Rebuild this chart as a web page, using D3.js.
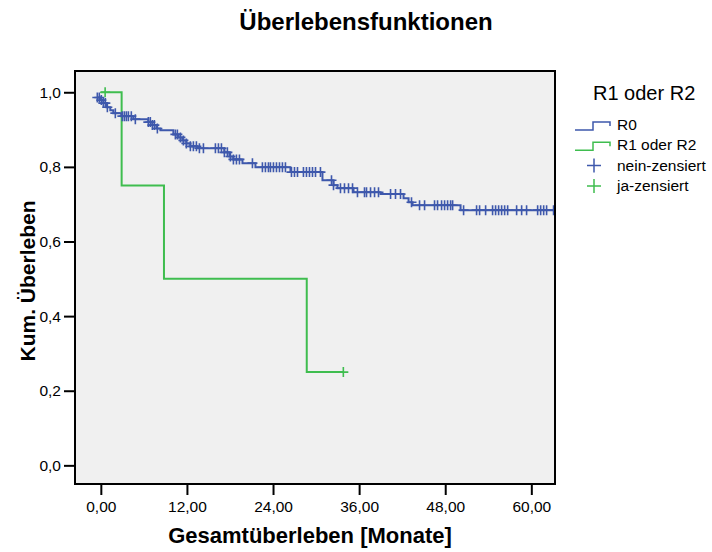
<!DOCTYPE html>
<html>
<head>
<meta charset="utf-8">
<title>Überlebensfunktionen</title>
<script src="https://d3js.org/d3.v7.min.js"></script>
<style>
  body { margin: 0; background: #ffffff; }
  text { font-family: "Liberation Sans", Arial, sans-serif; fill: #000; }
</style>
</head>
<body>
<div id="vis"></div>
<script>
// Kaplan-Meier steps: time (months) / cumulative survival
const r0Times = [-0.5, 0.0, 0.35, 0.77, 1.32, 1.74, 2.86, 4.53, 6.62, 7.18, 7.74, 8.3, 10.11, 10.81, 11.37, 11.92,
  12.48, 13.46, 17.22, 17.92, 18.48, 19.74, 21.55, 26.43, 30.89, 32.43, 32.99, 35.22, 38.98, 42.19, 42.89, 43.45, 50.14, 63.4];
const r0Surv = [0.986, 0.979, 0.971, 0.960, 0.952, 0.944, 0.936, 0.928, 0.920, 0.912, 0.903, 0.898, 0.887, 0.879, 0.871, 0.863,
  0.855, 0.850, 0.839, 0.828, 0.820, 0.810, 0.799, 0.786, 0.764, 0.751, 0.743, 0.732, 0.727, 0.716, 0.705, 0.697, 0.684, 0.684];
const r0Censored = [-0.49, -0.21, 0.07, 0.35, 0.63, 0.91, 2.02, 3.0, 3.28, 3.56, 3.84, 4.25, 4.81,
  6.62, 6.9, 7.18, 7.46, 7.88, 10.39, 10.67, 11.09, 11.51, 11.92, 12.48, 12.9, 13.32, 13.74, 14.3,
  15.97, 16.39, 16.81, 17.22, 17.64, 18.06, 18.48, 18.9, 19.32, 21.13,
  22.52, 22.94, 23.36, 23.64, 24.06, 24.48, 24.9, 25.31, 25.73, 26.57, 26.99, 27.41,
  28.24, 28.66, 29.08, 29.5, 29.92, 30.61, 32.15, 32.43, 33.4, 33.96, 34.52, 35.08,
  35.77, 36.75, 37.03, 37.59, 38.15, 38.7, 40.38, 41.07, 41.77, 43.3, 44.42, 45.12,
  46.51, 46.93, 47.49, 47.91, 48.33, 48.75, 49.03, 50.56, 52.37, 52.79, 53.63,
  54.6, 55.02, 55.44, 55.86, 56.28, 56.7, 57.95, 58.65, 59.34, 60.88, 61.3, 61.72, 62.13, 63.1];

const r12Times = [0, 2.9, 8.8, 28.7, 33.8];
const r12Surv = [1.0, 0.75, 0.5, 0.25, 0.25];
const r12Censored = [0.6, 33.8];

const xTicks = [0, 12, 24, 36, 48, 60];
const yTicks = [0, 0.2, 0.4, 0.6, 0.8, 1.0];

const blue = "#3e58ac", green = "#3fbd4f";

const svg = d3.select("#vis").append("svg")
  .attr("width", 712).attr("height", 552);

// plot frame
const L = 75, R = 555, T = 71, B = 484;
const x = d3.scaleLinear().domain([-3.6, 63.3]).range([L, R]);
const y = d3.scaleLinear().domain([-0.05, 1.057]).range([B, T]);

svg.append("defs").append("clipPath").attr("id", "clip")
  .append("rect").attr("x", L).attr("y", T).attr("width", R - L).attr("height", B - T);

svg.append("rect")
  .attr("x", L).attr("y", T).attr("width", R - L).attr("height", B - T)
  .attr("fill", "#f0f0f0");

// axes
const fmtX = d => d3.format(".2f")(d).replace(".", ",");
const fmtY = d => d3.format(".1f")(d).replace(".", ",");

const xAxis = svg.append("g").attr("transform", `translate(0,${B + 1})`)
  .call(d3.axisBottom(x).tickValues(xTicks).tickSize(10).tickPadding(6).tickFormat(fmtX));
const yAxis = svg.append("g").attr("transform", `translate(${L - 1},0)`)
  .call(d3.axisLeft(y).tickValues(yTicks).tickSize(10).tickPadding(3).tickFormat(fmtY));
[xAxis, yAxis].forEach(g => {
  g.select(".domain").remove();
  g.selectAll(".tick line").attr("stroke", "#000").attr("stroke-width", 2);
  g.selectAll(".tick text").attr("font-size", 15.5).attr("font-family", "Liberation Sans, Arial, sans-serif");
});

// curves
const plot = svg.append("g").attr("clip-path", "url(#clip)");
const line = d3.line().x(d => x(d[0])).y(d => y(d[1])).curve(d3.curveStepAfter);

function survAt(times, surv, t) {
  let s = surv[0];
  for (let i = 0; i < times.length; i++) if (times[i] <= t + 1e-9) s = surv[i];
  return s;
}

function drawCurve(times, surv, censored, color) {
  plot.append("path")
    .datum(times.map((t, i) => [t, surv[i]]))
    .attr("d", line)
    .attr("fill", "none").attr("stroke", color).attr("stroke-width", 2);
  plot.selectAll(null)
    .data(censored)
    .join("path")
    .attr("d", t => {
      const cx = x(t), cy = y(survAt(times, surv, t));
      return `M${cx - 5},${cy}H${cx + 5}M${cx},${cy - 5}V${cy + 5}`;
    })
    .attr("stroke", color).attr("stroke-width", 1.6).attr("fill", "none");
}

drawCurve(r12Times, r12Surv, r12Censored, green);
drawCurve(r0Times, r0Surv, r0Censored, blue);

svg.append("rect")
  .attr("x", L).attr("y", T).attr("width", R - L).attr("height", B - T)
  .attr("fill", "none").attr("stroke", "#000").attr("stroke-width", 2);

// titles
svg.append("text").attr("x", 366).attr("y", 30).attr("text-anchor", "middle")
  .attr("font-size", 24).attr("font-weight", "bold").text("Überlebensfunktionen");
svg.append("text").attr("x", 310).attr("y", 543).attr("text-anchor", "middle")
  .attr("font-size", 22).attr("font-weight", "bold").text("Gesamtüberleben [Monate]");
svg.append("text").attr("transform", "translate(35,281) rotate(-90)").attr("text-anchor", "middle")
  .attr("font-size", 21).attr("font-weight", "bold").text("Kum. Überleben");

// legend
const leg = svg.append("g");
leg.append("text").attr("x", 593).attr("y", 100).attr("font-size", 20).text("R1 oder R2");
const legItems = [
  { label: "R0", color: blue, kind: "step" },
  { label: "R1 oder R2", color: green, kind: "step" },
  { label: "nein-zensiert", color: blue, kind: "cross" },
  { label: "ja-zensiert", color: green, kind: "cross" }
];
legItems.forEach((d, i) => {
  const b = 130 + 20.3 * i;
  if (d.kind === "step") {
    leg.append("path").attr("d", `M575,${b}H593V${b - 8}H610V${b - 4}`)
      .attr("fill", "none").attr("stroke", d.color).attr("stroke-width", 1.5);
  } else {
    leg.append("path").attr("d", `M587,${b - 5}H601M594,${b - 12}V${b + 2}`)
      .attr("fill", "none").attr("stroke", d.color).attr("stroke-width", 1.5);
  }
  leg.append("text").attr("x", 617).attr("y", b).attr("font-size", 15.5).text(d.label);
});
</script>
</body>
</html>
